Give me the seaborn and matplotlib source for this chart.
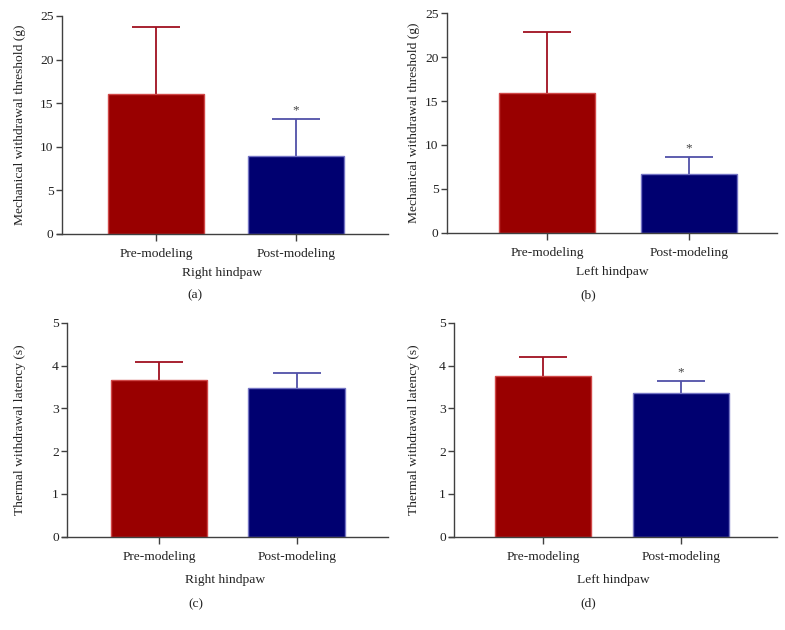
import matplotlib
matplotlib.use("Agg")
import matplotlib.pyplot as plt
import seaborn as sns
import pandas as pd

sns.set_theme(style="white")
plt.rcParams['font.family'] = ['Liberation Serif', 'DejaVu Serif']

groups = ["Pre-modeling", "Post-modeling"]
mech_right = [16.0, 9.0]
mech_right_err = [7.75, 4.2]
mech_left = [15.9, 6.65]
mech_left_err = [7.0, 2.0]
therm_right = [3.66, 3.47]
therm_right_err = [0.43, 0.36]
therm_left = [3.75, 3.36]
therm_left_err = [0.46, 0.28]
sig = [[False, True], [False, True], [False, False], [False, True]]

ylabels = ["Mechanical withdrawal threshold (g)", "Mechanical withdrawal threshold (g)",
           "Thermal withdrawal latency (s)", "Thermal withdrawal latency (s)"]
xlabels = ["Right hindpaw", "Left hindpaw", "Right hindpaw", "Left hindpaw"]
panel_letters = ["(a)", "(b)", "(c)", "(d)"]
yticks_mech = [0, 5, 10, 15, 20, 25]
yticks_therm = [0, 1, 2, 3, 4, 5]

means = [mech_right, mech_left, therm_right, therm_left]
errs = [mech_right_err, mech_left_err, therm_right_err, therm_left_err]
yticks = [yticks_mech, yticks_mech, yticks_therm, yticks_therm]

bar_colors = ["#990000", "#000070"]
edge_colors = ["#d04848", "#7474c4"]
err_colors = ["#a01020", "#5050a8"]

W, H = 785, 630
fig = plt.figure(figsize=(W / 100, H / 100), dpi=100)

# layout in pixels: axis line start, axis end, spine x, top y, zero y, center0, center1, bar width px
layouts = [
    (57, 388, 62, 16, 234, 156, 296, 96),
    (447, 777, 447, 13.3, 232.7, 547, 689, 96),
    (61.7, 388.3, 67.3, 322.7, 536.7, 159.2, 296.7, 96.5),
    (449.3, 776.7, 454.3, 322.7, 536.7, 543, 680.8, 95.4),
]
letter_pos = [(195, 295), (588, 295), (196, 604), (588, 603)]
xlabelpads = [5.2, 5.2, 8, 8]
ylabelpads = [10.3, 4, 19, 14]

for i in range(4):
    x0, x1, sx, ty, zy, c0, c1, bw = layouts[i]
    s = c1 - c0
    width = bw / s
    ax = fig.add_axes([x0 / W, 1 - zy / H, (x1 - x0) / W, (zy - ty) / H])
    df = pd.DataFrame({"group": groups, "value": means[i]})
    sns.barplot(data=df, x="group", y="value", hue="group", palette=bar_colors,
                saturation=1, width=width, ax=ax, legend=False, errorbar=None,
                zorder=2)
    for j, p in enumerate(ax.patches):
        p.set_edgecolor(edge_colors[j])
        p.set_linewidth(1.0)
        p.set_zorder(2)
    for j in range(2):
        top = means[i][j] + errs[i][j]
        ax.vlines(j, means[i][j], top, color=err_colors[j], linewidth=1.3, zorder=1)
        ax.hlines(top, j - width / 4, j + width / 4, color=err_colors[j],
                  linewidth=1.3, zorder=1)
        if sig[i][j]:
            ax.annotate("*", xy=(j, top), xytext=(0, 2), textcoords="offset points",
                        ha="center", va="bottom", fontsize=9.5, color="#444444")
    ax.set_xlim((x0 - c0) / s, (x1 - c0) / s)
    ax.set_ylim(0, yticks[i][-1])
    ax.set_yticks(yticks[i])
    ax.spines['left'].set_position(('data', (sx - c0) / s))
    ax.spines['top'].set_visible(False)
    ax.spines['right'].set_visible(False)
    for sp in ['left', 'bottom']:
        ax.spines[sp].set_color("#404040")
        ax.spines[sp].set_linewidth(1.0)
        ax.spines[sp].set_zorder(3)
    ax.tick_params(axis='both', which='both', direction='out', width=1.0,
                   color="#404040", labelsize=9.7, labelcolor="#222222")
    ax.tick_params(axis='x', bottom=True, length=5, pad=5)
    ax.tick_params(axis='y', left=True, length=4, pad=2)
    ax.set_ylabel(ylabels[i], fontsize=9.7, color="#222222", labelpad=ylabelpads[i])
    ax.set_xlabel(xlabels[i], fontsize=9.7, color="#222222", labelpad=xlabelpads[i])
    ax.grid(False)
    ax.set_facecolor("none")
    lx, ly = letter_pos[i]
    fig.text(lx / W, 1 - ly / H, panel_letters[i], ha="center", va="center",
             fontsize=9.7, color="#222222")

fig.savefig("out.png", dpi=100, facecolor="white")
